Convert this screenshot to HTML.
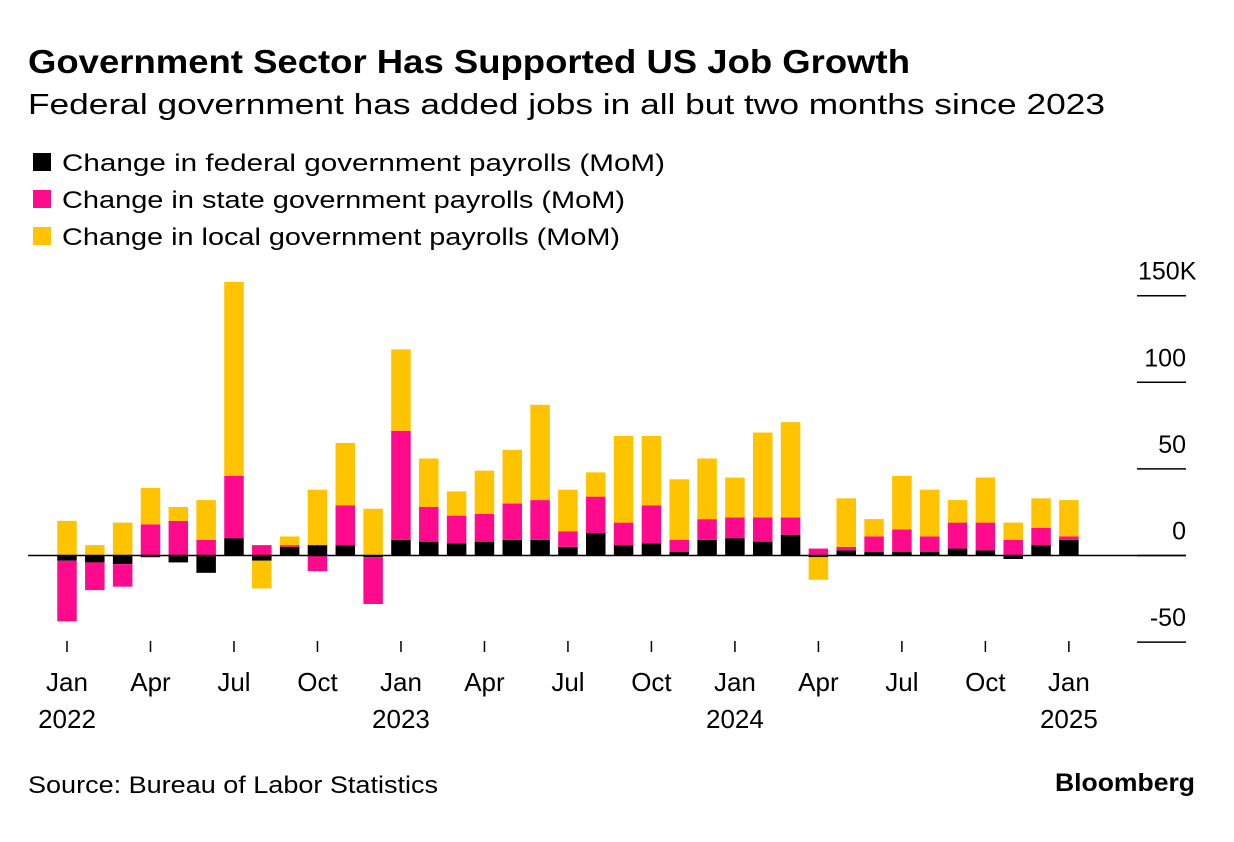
<!DOCTYPE html>
<html><head><meta charset="utf-8">
<style>
body{margin:0;background:#fff;font-family:"Liberation Sans",Arial,sans-serif;}
svg{display:block}
</style></head>
<body>
<svg id="chart" width="1234" height="842" viewBox="0 0 1234 842" xmlns="http://www.w3.org/2000/svg">
<text x="28" y="73" font-size="33" font-weight="bold" fill="#000" textLength="882" lengthAdjust="spacingAndGlyphs">Government Sector Has Supported US Job Growth</text>
<text x="28" y="114" font-size="29" fill="#000" textLength="1077" lengthAdjust="spacingAndGlyphs">Federal government has added jobs in all but two months since 2023</text>
<g>
<g><rect x="33" y="153" width="18" height="18" fill="#000"/><text x="62" y="171" font-size="24" fill="#000" textLength="603" lengthAdjust="spacingAndGlyphs">Change in federal government payrolls (MoM)</text></g>
<g><rect x="33" y="190" width="18" height="18" fill="#ff0a8c"/><text x="62" y="208" font-size="24" fill="#000" textLength="563" lengthAdjust="spacingAndGlyphs">Change in state government payrolls (MoM)</text></g>
<g><rect x="33" y="227" width="18" height="18" fill="#ffc300"/><text x="62" y="245" font-size="24" fill="#000" textLength="558" lengthAdjust="spacingAndGlyphs">Change in local government payrolls (MoM)</text></g>
</g>
<g id="bars"></g>
<g id="yaxis"></g>
<g id="xaxis"></g>
<text x="28" y="793" font-size="24" fill="#000" textLength="410" lengthAdjust="spacingAndGlyphs">Source: Bureau of Labor Statistics</text>
<text x="1055" y="791" font-size="25" font-weight="bold" fill="#000" textLength="140" lengthAdjust="spacingAndGlyphs">Bloomberg</text>
</svg>
<script>
const federal=[-3,-4,-5,-1,-4,-10,10,-3,5,6,6,-1,9,8,7,8,9,9,5,13,6,7,2,9,10,8,12,-1,3,2,2,2,4,3,-2,6,9];
const state=[-35,-16,-13,18,20,9,36,6,1,-9,23,-27,63,20,16,16,21,23,9,21,13,22,7,12,12,14,10,4,2,9,13,9,15,16,9,10,2];
const local=[20,6,19,21,8,23,112,-16,5,32,36,27,47,28,14,25,31,55,24,14,50,40,35,35,23,49,55,-13,28,10,31,27,13,26,10,17,21];
const yTicks=[150,100,50,0,-50];
const yTickLabels=["150K","100","50","0","-50"];
const xTickIdx=[0,3,6,9,12,15,18,21,24,27,30,33,36];
const xTickLabels=["Jan","Apr","Jul","Oct","Jan","Apr","Jul","Oct","Jan","Apr","Jul","Oct","Jan"];
const yearLabels=["2022","","","","2023","","","","2024","","","","2025"];

const NS="http://www.w3.org/2000/svg";
const y=v=>555.5-v*(86.6/50);
const x=i=>67+i*27.83;
const bw=19.5;
function mk(tag,attrs,parent){const e=document.createElementNS(NS,tag);for(const k in attrs)e.setAttribute(k,attrs[k]);parent.appendChild(e);return e;}
const bars=document.getElementById('bars');
const series=[[federal,'#000','federal'],[state,'#ff0a8c','state'],[local,'#ffc300','local']];
for(let i=0;i<federal.length;i++){
  let pos=0,neg=0;
  for(const [arr,col,nm] of series){
    const v=arr[i];let a,b;
    if(v>=0){a=pos;b=pos+v;pos=b;}else{a=neg;b=neg+v;neg=b;}
    const r=mk('rect',{x:x(i)-bw/2,y:Math.min(y(a),y(b)),width:bw,height:Math.abs(y(a)-y(b)),fill:col},bars);
    
    
  }
}
const ya=document.getElementById('yaxis');
const zl=mk('line',{x1:28,x2:1186,y1:y(0),y2:y(0),stroke:'#000','stroke-width':1.5},ya);


yTicks.forEach((t,k)=>{
  const l=mk('line',{x1:1137,x2:1186,y1:y(t),y2:y(t),stroke:'#000','stroke-width':1.5},ya);
  
  
  const lab=yTickLabels[k];
  const tx=mk('text',{x:lab.endsWith('K')?1138:1186,y:y(t)-16,'font-size':25,'text-anchor':lab.endsWith('K')?'start':'end',fill:'#000'},ya);
  tx.textContent=lab;
  
  
});
const xa=document.getElementById('xaxis');
xTickIdx.forEach((i,k)=>{
  const l=mk('line',{x1:x(i),x2:x(i),y1:641,y2:652,stroke:'#000','stroke-width':1.5},xa);
  
  
  const t=mk('text',{x:x(i),y:691,'font-size':26,'text-anchor':'middle',fill:'#000'},xa);
  t.textContent=xTickLabels[k];
  
  
  if(yearLabels[k]){
    const yl=mk('text',{x:x(i),y:728,'font-size':26,'text-anchor':'middle',fill:'#000'},xa);
    yl.textContent=yearLabels[k];
    
    
  }
});
</script>
</body></html>
